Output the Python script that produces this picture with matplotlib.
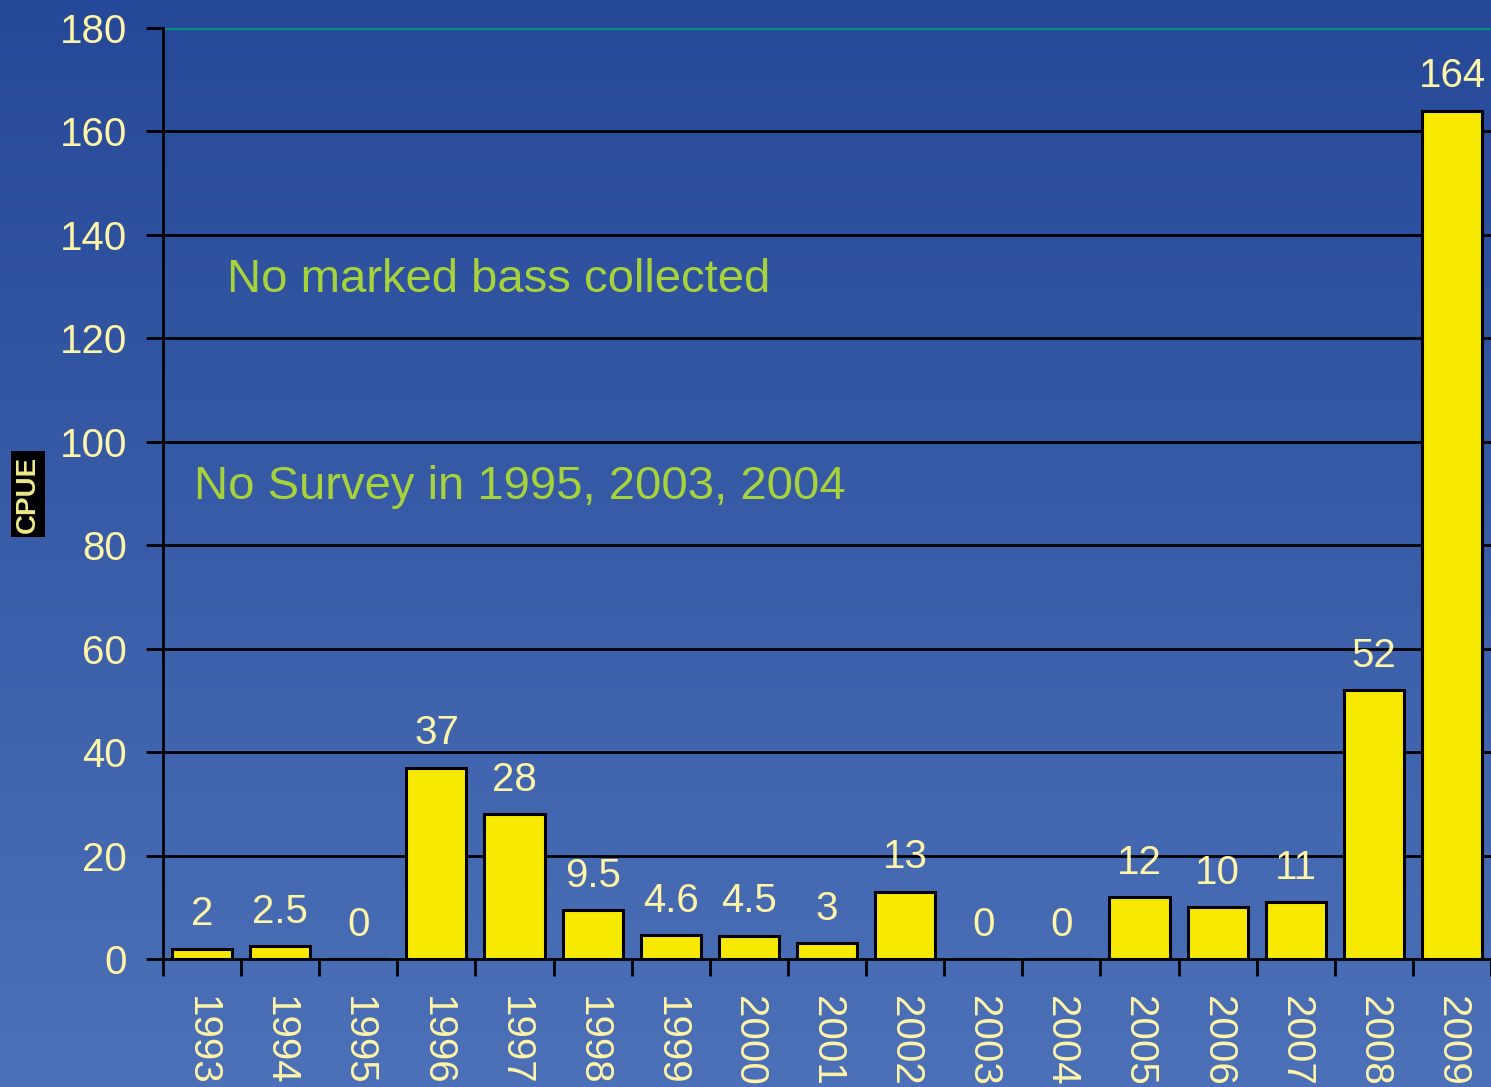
import numpy as np
import matplotlib.pyplot as plt

years = ["1993", "1994", "1995", "1996", "1997", "1998", "1999", "2000", "2001",
         "2002", "2003", "2004", "2005", "2006", "2007", "2008", "2009"]
cpue = [2, 2.5, 0, 37, 28, 9.5, 4.6, 4.5, 3, 13, 0, 0, 12, 10, 11, 52, 164]
value_labels = ["2", "2.5", "0", "37", "28", "9.5", "4.6", "4.5", "3", "13", "0", "0",
                "12", "10", "11", "52", "164"]
yticks = [0, 20, 40, 60, 80, 100, 120, 140, 160, 180]

txt_col = "#FFF5A8"
note_col = "#A8D23A"

plt.rcParams["font.family"] = ["Liberation Sans", "DejaVu Sans"]

fig = plt.figure(figsize=(14.91, 10.87), dpi=100)

# blue gradient background
bg = fig.add_axes([0, 0, 1, 1], zorder=-10)
grad = np.linspace(0, 1, 256)[:, None]
top = np.array([0x26, 0x48, 0x98]) / 255
bot = np.array([0x4C, 0x71, 0xB8]) / 255
img = top + grad[..., None] * (bot - top)
bg.imshow(img, aspect="auto", extent=[0, 1, 0, 1], origin="upper")
bg.axis("off")

W, H = 1491, 1087
ax = fig.add_axes([163 / W, 1 - 959 / H, (1491 - 163) / W, (959 - 28) / H])
ax.patch.set_alpha(0)

x = np.arange(len(years))
ax.bar(x, cpue, width=0.77, color="#F7EA00", edgecolor="black", linewidth=2.2, zorder=3)
for xi, v, lab in zip(x, cpue, value_labels):
    ax.annotate(lab, (xi, v), xytext=(0, 11), textcoords="offset points",
                ha="center", va="bottom", color=txt_col, fontsize=29, zorder=4)

ax.set_xlim(-0.5, len(years) - 0.5)
ax.set_ylim(0, 180)
ax.set_yticks(yticks)
ax.set_yticklabels([str(t) for t in yticks], color=txt_col, fontsize=29)
for t in yticks[1:-1]:
    ax.axhline(t, color="black", linewidth=2, zorder=1)
ax.axhline(180, color="#0B8C86", linewidth=2.5, zorder=1)

# category boundary ticks
ax.set_xticks(np.arange(len(years) + 1) - 0.5, minor=True)
ax.set_xticks(x)
ax.set_xticklabels(years, rotation=270, color=txt_col, fontsize=29, va="top")
ax.tick_params(axis="x", which="major", length=0, pad=27)
ax.tick_params(axis="x", which="minor", length=12, width=2, color="black", direction="out")
ax.tick_params(axis="y", length=12, width=2, color="black", pad=14)

for s in ["top", "right"]:
    ax.spines[s].set_visible(False)
for s in ["left", "bottom"]:
    ax.spines[s].set_linewidth(2)
    ax.spines[s].set_color("black")

ax.text(0.32, 131.3, "No marked bass collected", color=note_col, fontsize=34, va="center")
ax.text(-0.1, 91.3, "No Survey in 1995, 2003, 2004", color=note_col, fontsize=34, va="center")

fig.text(28 / W, 1 - 494 / H, "CPUE", rotation=90, ha="center", va="center",
         color="#EEEA8C", fontsize=20, fontweight="bold",
         family=["Liberation Sans Narrow", "Liberation Sans"],
         bbox=dict(facecolor="black", edgecolor="none", pad=3))

fig.savefig("out.png", dpi=100)
